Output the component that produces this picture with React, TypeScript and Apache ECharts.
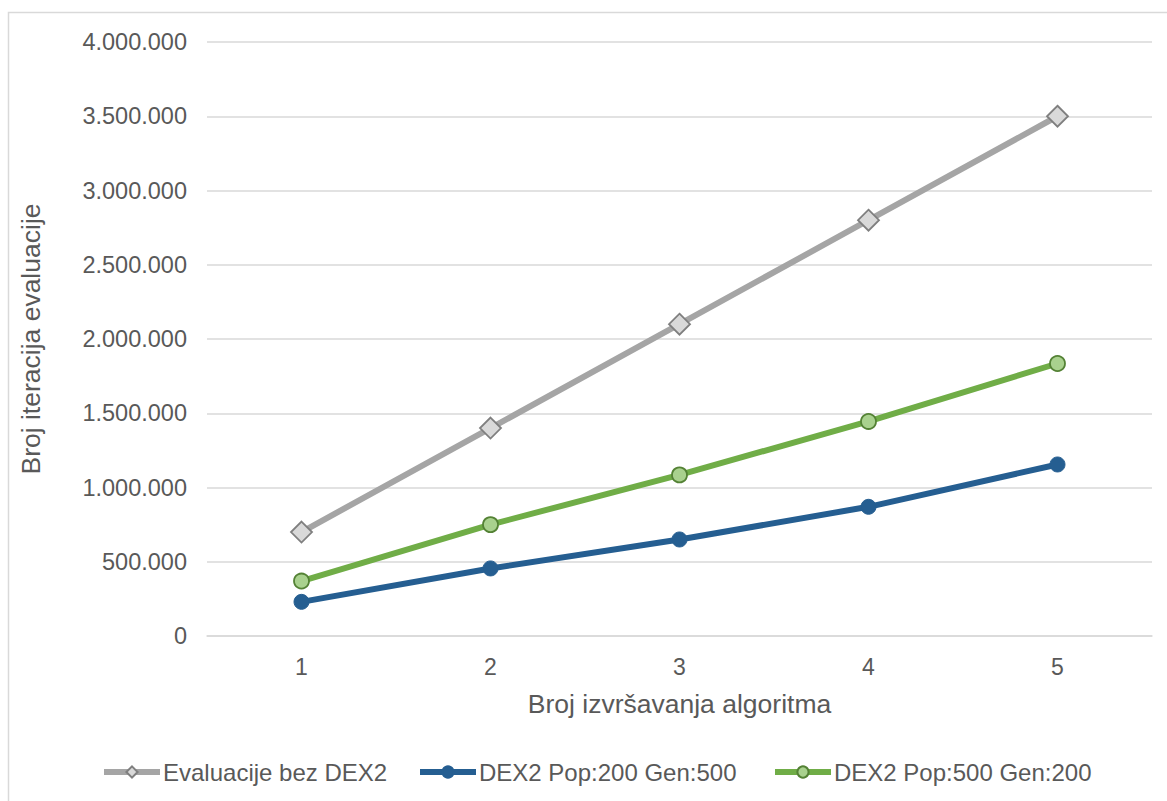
import React, { useEffect, useRef } from "react";
import * as echarts from "echarts";

const categories = ["1", "2", "3", "4", "5"];
const seriesNames = ["Evaluacije bez DEX2", "DEX2 Pop:200 Gen:500", "DEX2 Pop:500 Gen:200"];
const evalBezDex2 = [700000, 1400000, 2100000, 2800000, 3500000];
const dexPop200 = [230000, 455000, 650000, 870000, 1155000];
const dexPop500 = [370000, 750000, 1085000, 1445000, 1835000];
const yMax = 4000000;
const yInterval = 500000;

const fmt = (v: number) => String(Math.round(v)).replace(/\B(?=(\d{3})+(?!\d))/g, ".");

export default function App() {
  const ref = useRef<HTMLDivElement>(null);
  useEffect(() => {
    if (!ref.current) return;
    const chart = echarts.init(ref.current, undefined, { renderer: "svg" });
    const font = "'Liberation Sans', Arial, sans-serif";
    const legendLefts = [96, 412, 767];
    chart.setOption({
      animation: false,
      backgroundColor: "#ffffff",
      textStyle: { fontFamily: font },
      graphic: [
        {
          type: "rect",
          shape: { x: 8.5, y: 12.5, width: 1200, height: 900 },
          style: { fill: "none", stroke: "#d9d9d9", lineWidth: 1.5 },
          silent: true,
        },
      ],
      grid: { left: 207, right: 15, top: 42, bottom: 165 },
      legend: seriesNames.map((name, i) => ({
        left: legendLefts[i],
        top: 755,
        itemWidth: 56,
        itemHeight: 14,
        lineStyle: { width: 6 },
        textStyle: { fontSize: 24, color: "#595959", fontFamily: font, padding: [0, 0, 0, -2] },
        data: [name],
      })),
      xAxis: {
        type: "category",
        data: categories,
        boundaryGap: true,
        axisLine: { show: true, lineStyle: { color: "#d9d9d9", width: 1.5 } },
        axisTick: { show: false },
        axisLabel: { fontSize: 23, color: "#595959", margin: 19, fontFamily: font },
        name: "Broj izvršavanja algoritma",
        nameLocation: "middle",
        nameGap: 54,
        nameTextStyle: { fontSize: 26.5, color: "#595959", fontFamily: font },
      },
      yAxis: {
        type: "value",
        min: 0,
        max: yMax,
        interval: yInterval,
        axisLine: { show: false },
        axisTick: { show: false },
        splitLine: { lineStyle: { color: "#d9d9d9", width: 1.5 } },
        axisLabel: { fontSize: 23.5, color: "#595959", margin: 20, formatter: fmt, fontFamily: font },
        name: "Broj iteracija evaluacije",
        nameLocation: "middle",
        nameGap: 163,
        nameRotate: 90,
        nameTextStyle: { fontSize: 26.5, color: "#595959", fontFamily: font },
      },
      series: [
        {
          name: seriesNames[0],
          type: "line",
          data: evalBezDex2,
          symbol: "diamond",
          symbolSize: 21,
          lineStyle: { color: "#a5a5a5", width: 6 },
          itemStyle: { color: "#d9d9d9", borderColor: "#7f7f7f", borderWidth: 1.8 },
          z: 2,
        },
        {
          name: seriesNames[1],
          type: "line",
          data: dexPop200,
          symbol: "circle",
          symbolSize: 15,
          lineStyle: { color: "#255e91", width: 6 },
          itemStyle: { color: "#255e91", borderColor: "#255e91", borderWidth: 1 },
          z: 3,
        },
        {
          name: seriesNames[2],
          type: "line",
          data: dexPop500,
          symbol: "circle",
          symbolSize: 15,
          lineStyle: { color: "#70ad47", width: 6 },
          itemStyle: { color: "#a9d18e", borderColor: "#548235", borderWidth: 1.8 },
          z: 4,
        },
      ],
    });
    return () => chart.dispose();
  }, []);
  return (
    <div
      ref={ref}
      style={{ position: "fixed", left: 0, top: 0, width: 1167, height: 801 }}
    />
  );
}
